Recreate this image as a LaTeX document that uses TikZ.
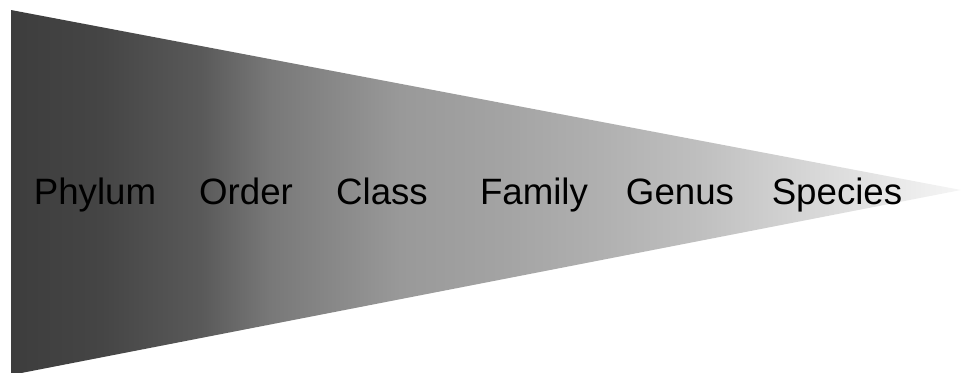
\documentclass[tikz,border=0pt]{standalone}
\usepackage{fontspec}
\setmainfont{Liberation Sans}
\usepackage{tikz}
\usetikzlibrary{positioning}
\pgfdeclarehorizontalshading{wedgeshade}{100bp}{%
  color(0bp)=(black!76); color(25bp)=(black!76); color(29.7bp)=(black!73);
  color(35bp)=(black!65); color(38.6bp)=(black!53); color(41.8bp)=(black!47);
  color(45.5bp)=(black!40); color(50.8bp)=(black!36); color(56bp)=(black!31);
  color(61.3bp)=(black!25); color(67.6bp)=(black!15); color(73.4bp)=(black!6);
  color(75bp)=(black!4); color(100bp)=(black!4)}
\tikzset{
  wedge/.style={shading=wedgeshade, draw=none},
  taxlabel/.style={anchor=base, inner sep=0pt, text=black, font=\fontsize{27.5}{33}\selectfont}
}

\begin{document}
\begin{tikzpicture}[x=0.75pt, y=-0.75pt]
\useasboundingbox (0,0) rectangle (961,372);
\coordinate (top) at (11,10);
\coordinate (bottom) at (11,375);
\coordinate (tip) at (961,190);
\shade[wedge] (top) -- (tip) -- (bottom) -- cycle;
\node[taxlabel] (phylum) at (95,204) {Phylum};
\node[taxlabel] (order) at (246,204) {Order};
\node[taxlabel] (class) at (382,204) {Class};
\node[taxlabel] (family) at (534,204) {Family};
\node[taxlabel] (genus) at (680,204) {Genus};
\node[taxlabel] (species) at (837,204) {Species};
\end{tikzpicture}
\end{document}
